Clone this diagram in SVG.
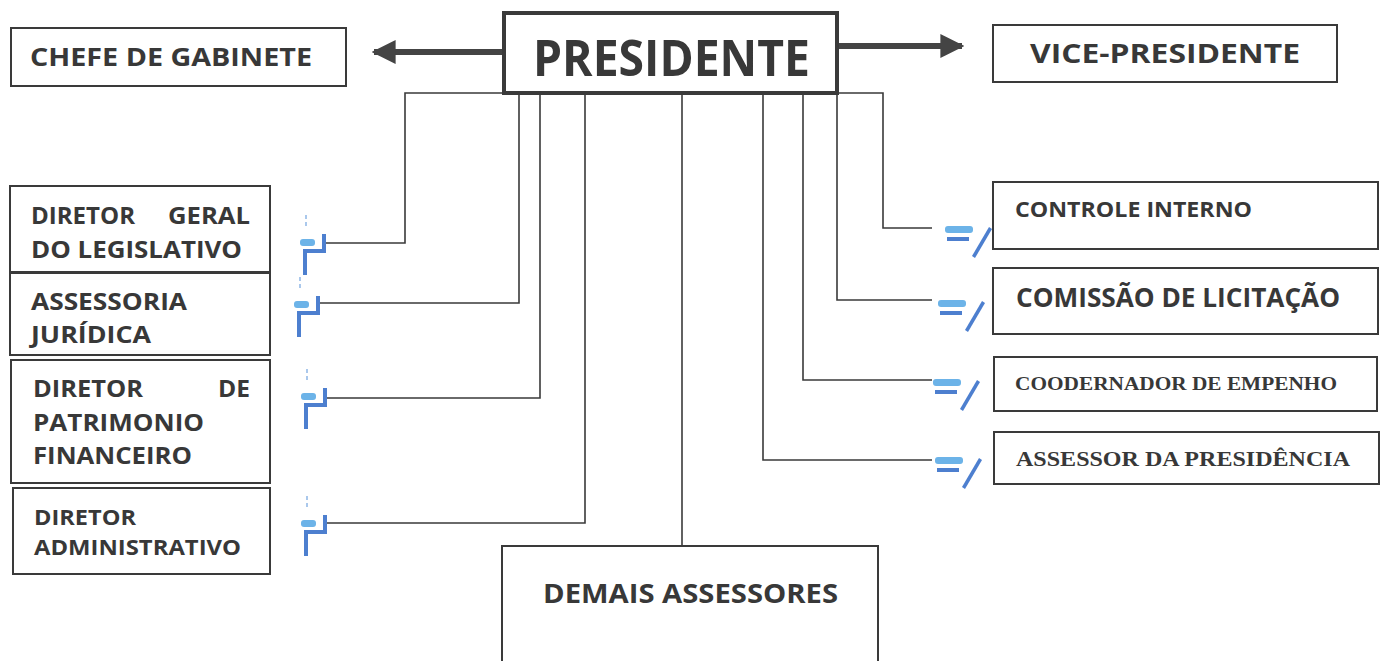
<svg xmlns="http://www.w3.org/2000/svg" width="1385" height="661" viewBox="0 0 1385 661">
<defs>
<style>
.box{fill:#fff;stroke:#3a3a3a;stroke-width:2}
.t{font-family:"Open Sans","DejaVu Sans",sans-serif;font-weight:bold;fill:#383838}
.s{font-family:"Liberation Serif","Times New Roman",serif;font-weight:bold;fill:#383838}
.ln{fill:none;stroke:#3a3a3a;stroke-width:1.6}
.big{stroke:#444;stroke-width:6;fill:none}
.lb{fill:#6cb3e8}
.db{fill:#4d7fcf}
.fb{stroke:#8fb6e6;stroke-width:1.5;stroke-dasharray:4 3;fill:none}
</style>
<marker id="ah" viewBox="0 0 10 10" refX="9" refY="5" markerWidth="4" markerHeight="4" orient="auto-start-reverse">
<path d="M0,0 L10,5 L0,10 Z" fill="#444"/>
</marker>
<g id="blL">
<path class="fb" d="M6,-28 V-14"/>
<rect class="lb" x="0" y="-4" width="15" height="7" rx="3"/>
<path class="db" d="M3,6 H22 V-9 H26 V10 H7 V32 H3 Z"/>
</g>
<g id="blR">
<rect class="lb" x="0" y="-5" width="28" height="7" rx="3"/>
<rect class="db" x="2" y="6" width="22" height="4"/>
<path class="db" d="M44,-4 L47,-2 L30,27 L27,25 Z"/>
</g>
</defs>
<rect width="1385" height="661" fill="#fff"/>

<g id="connectors">
<path class="big" d="M503,52 H374" marker-end="url(#ah)"/>
<path class="big" d="M838,46 H962" marker-end="url(#ah)"/>
<path class="ln" d="M503,93 H405 V243 H326"/>
<path class="ln" d="M519,93 V303 H320"/>
<path class="ln" d="M540,93 V398 H327"/>
<path class="ln" d="M585,93 V523 H327"/>
<path class="ln" d="M682,93 V546"/>
<path class="ln" d="M838,93 H883 V228 H932"/>
<path class="ln" d="M837,93 V300 H932"/>
<path class="ln" d="M803,93 V380 H932"/>
<path class="ln" d="M763,93 V460 H932"/>
<use href="#blL" x="300" y="243"/>
<use href="#blL" x="294" y="305"/>
<use href="#blL" x="301" y="397"/>
<use href="#blL" x="301" y="524"/>
<use href="#blR" x="945" y="231"/>
<use href="#blR" x="938" y="305"/>
<use href="#blR" x="933" y="384"/>
<use href="#blR" x="935" y="462"/>
</g>

<g id="presidente">
<rect x="504" y="13" width="333" height="80" fill="#fff" stroke="#3a3a3a" stroke-width="4"/>
<text class="t" x="533" y="76" font-size="50" textLength="277" lengthAdjust="spacingAndGlyphs">PRESIDENTE</text>
</g>
<g id="chefe">
<rect class="box" x="11" y="28" width="335" height="58"/>
<text class="t" x="30" y="66" font-size="25" textLength="282" lengthAdjust="spacingAndGlyphs">CHEFE DE GABINETE</text>
</g>
<g id="vice">
<rect class="box" x="993" y="25" width="344" height="57"/>
<text class="t" x="1030" y="63" font-size="26" textLength="270" lengthAdjust="spacingAndGlyphs">VICE-PRESIDENTE</text>
</g>

<g id="diretor-geral">
<rect class="box" x="10" y="186" width="260" height="86"/>
<text class="t" x="31" y="224" font-size="23" textLength="104" lengthAdjust="spacingAndGlyphs">DIRETOR</text>
<text class="t" x="168" y="224" font-size="23" textLength="82" lengthAdjust="spacingAndGlyphs">GERAL</text>
<text class="t" x="31" y="258" font-size="23" textLength="211" lengthAdjust="spacingAndGlyphs">DO LEGISLATIVO</text>
</g>
<g id="assessoria-juridica">
<rect class="box" x="10" y="273" width="260" height="82"/>
<text class="t" x="31" y="310" font-size="23" textLength="156" lengthAdjust="spacingAndGlyphs">ASSESSORIA</text>
<text class="t" x="31" y="343" font-size="23" textLength="120" lengthAdjust="spacingAndGlyphs">JURÍDICA</text>
</g>
<g id="diretor-patrimonio">
<rect class="box" x="11" y="360" width="259" height="123"/>
<text class="t" x="33" y="397" font-size="23" textLength="110" lengthAdjust="spacingAndGlyphs">DIRETOR</text>
<text class="t" x="218" y="397" font-size="23" textLength="32" lengthAdjust="spacingAndGlyphs">DE</text>
<text class="t" x="33" y="431" font-size="23" textLength="171" lengthAdjust="spacingAndGlyphs">PATRIMONIO</text>
<text class="t" x="33" y="464" font-size="23" textLength="159" lengthAdjust="spacingAndGlyphs">FINANCEIRO</text>
</g>
<g id="diretor-administrativo">
<rect class="box" x="13" y="488" width="257" height="86"/>
<text class="t" x="34" y="525" font-size="22" textLength="102" lengthAdjust="spacingAndGlyphs">DIRETOR</text>
<text class="t" x="34" y="555" font-size="22" textLength="207" lengthAdjust="spacingAndGlyphs">ADMINISTRATIVO</text>
</g>

<g id="controle-interno">
<rect class="box" x="993" y="182" width="385" height="67"/>
<text class="t" x="1015" y="217" font-size="21" textLength="237" lengthAdjust="spacingAndGlyphs">CONTROLE INTERNO</text>
</g>
<g id="comissao">
<rect class="box" x="993" y="268" width="385" height="66"/>
<text class="t" x="1016" y="307" font-size="26" textLength="324" lengthAdjust="spacingAndGlyphs">COMISSÃO DE LICITAÇÃO</text>
</g>
<g id="coodernador">
<rect class="box" x="994" y="357" width="383" height="54"/>
<text class="s" x="1015" y="390" font-size="19" textLength="322" lengthAdjust="spacingAndGlyphs">COODERNADOR DE EMPENHO</text>
</g>
<g id="assessor-presidencia">
<rect class="box" x="994" y="432" width="385" height="52"/>
<text class="s" x="1016" y="466" font-size="21" textLength="334" lengthAdjust="spacingAndGlyphs">ASSESSOR DA PRESIDÊNCIA</text>
</g>

<g id="demais">
<rect class="box" x="502" y="546" width="376" height="125"/>
<text class="t" x="543" y="603" font-size="27" textLength="295" lengthAdjust="spacingAndGlyphs">DEMAIS ASSESSORES</text>
</g>
</svg>
